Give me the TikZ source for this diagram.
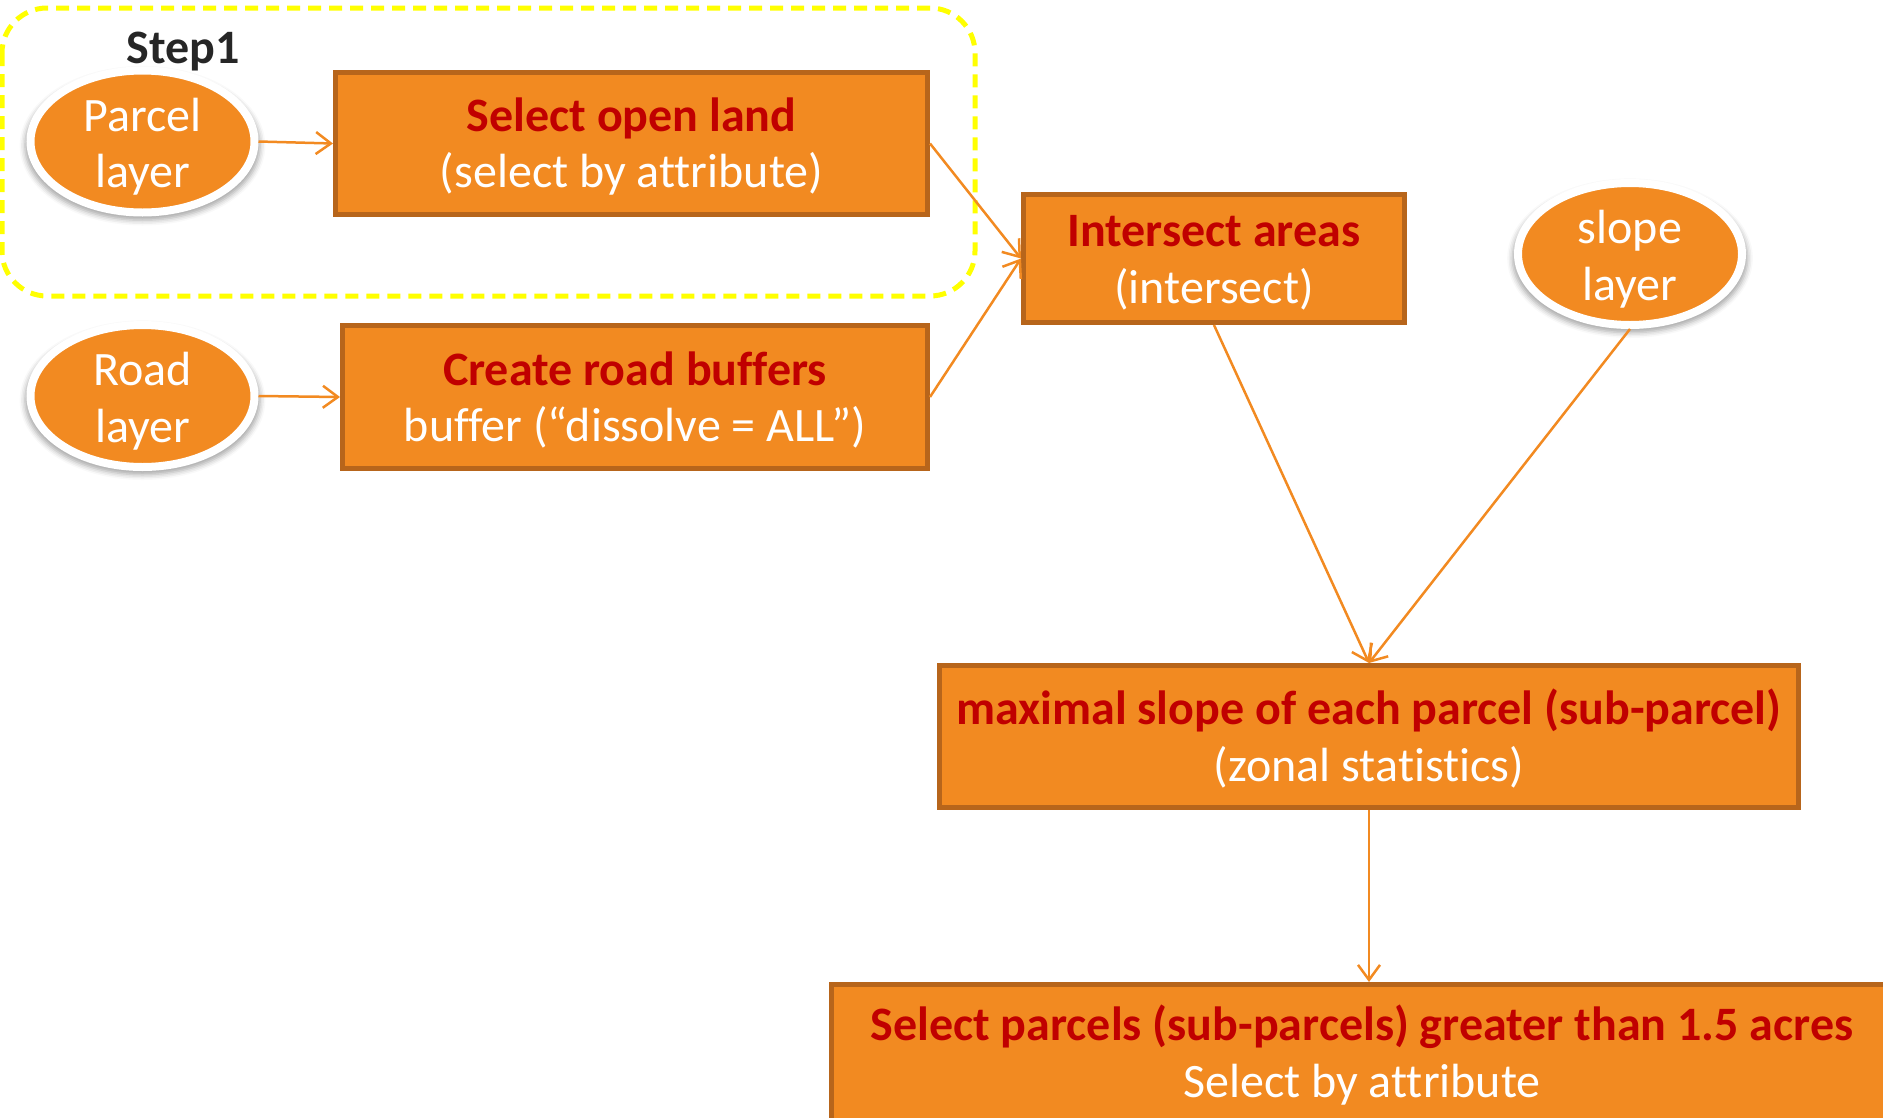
\documentclass[tikz,border=0pt]{standalone}
\usepackage{fontspec}
\setmainfont{Carlito}[Ligatures=CommonOff]
\usetikzlibrary{arrows.meta,shapes.geometric,shadows.blur}
\definecolor{boxfill}{HTML}{F28A21}
\definecolor{boxdraw}{HTML}{B7651B}
\definecolor{titlered}{HTML}{C00000}
\definecolor{steptext}{HTML}{262626}
\definecolor{stepline}{HTML}{FFFF00}
\newcommand{\lift}{\rule{0pt}{40pt}}
\begin{document}
\begin{tikzpicture}[x=1pt,y=-1pt,
  txt/.style={font=\fontsize{48}{56.5}\selectfont},
  box/.style={txt, rectangle, fill=boxfill, draw=boxdraw, line width=5pt,
    align=center, text=white, inner sep=0pt},
  blobtext/.style={txt, text=white, align=center, inner sep=0pt, yshift=-5pt},
  blob/.style={ellipse, fill=boxfill, draw=white, line width=8pt,
    minimum width=224pt, minimum height=142pt, inner sep=0pt,
    blur shadow={shadow xshift=0pt, shadow yshift=-4pt, shadow blur radius=5pt,
      shadow opacity=35, shadow scale=1.05}},
  conn/.style={draw=boxfill, line width=2.5pt,
    -{Straight Barb[length=15pt,width=22pt]}},
  stepframe/.style={draw=stepline, line width=5pt, dash pattern=on 13pt off 8pt,
    rounded corners=45pt}
]
\useasboundingbox (0,0) rectangle (1883,1117);
\clip (0,0) rectangle (1883,1117);

% Step 1 frame
\draw[stepframe] (2,8) rectangle (975,296);
\node[txt, font=\fontsize{48}{56.5}\selectfont\bfseries, text=steptext] (step) at (183,52) {Step1};

% input layers
\node[blob, label={[blobtext]center:Parcel\\layer}] (parcel) at (142.5,141.5) {};
\node[blob, label={[blobtext]center:Road\\layer}] (road) at (142.5,396) {};
\node[blob, label={[blobtext]center:slope\\layer}] (slope) at (1630,254) {};

% process boxes
\node[box, minimum width=592pt, minimum height=142pt] (sel) at (631.5,143.5)
  {\lift\textbf{\textcolor{titlered}{Select open land}}\\(select by attribute)};
\node[box, minimum width=585pt, minimum height=143pt] (buf) at (635,397)
  {\lift\textbf{\textcolor{titlered}{Create road buffers}}\\buffer (“dissolve = ALL”)};
\node[box, minimum width=381pt, minimum height=128pt] (inter) at (1214,258.5)
  {\lift\textbf{\textcolor{titlered}{Intersect areas}}\\(intersect)};
\node[box, minimum width=859pt, minimum height=142pt] (maxs) at (1369,736.5)
  {\lift\textbf{\textcolor{titlered}{maximal slope of each parcel (sub-parcel)}}\\(zonal statistics)};
\node[box, minimum width=1061pt, minimum height=137pt] (selp) at (1362,1053)
  {\lift\textbf{\textcolor{titlered}{Select parcels (sub-parcels) greater than 1.5 acres}}\\Select by attribute};

% connectors
\draw[conn] (parcel.east) -- (sel.west);
\draw[conn] (road.east) -- (buf.west);
\draw[conn] (sel.east) -- (inter.west);
\draw[conn] (buf.east) -- (inter.west);
\draw[conn] (inter.south) -- (maxs.north);
\draw[conn] (slope.south) -- (maxs.north);
\draw[conn] (maxs.south) -- (maxs.south |- selp.north);
\end{tikzpicture}
\end{document}
